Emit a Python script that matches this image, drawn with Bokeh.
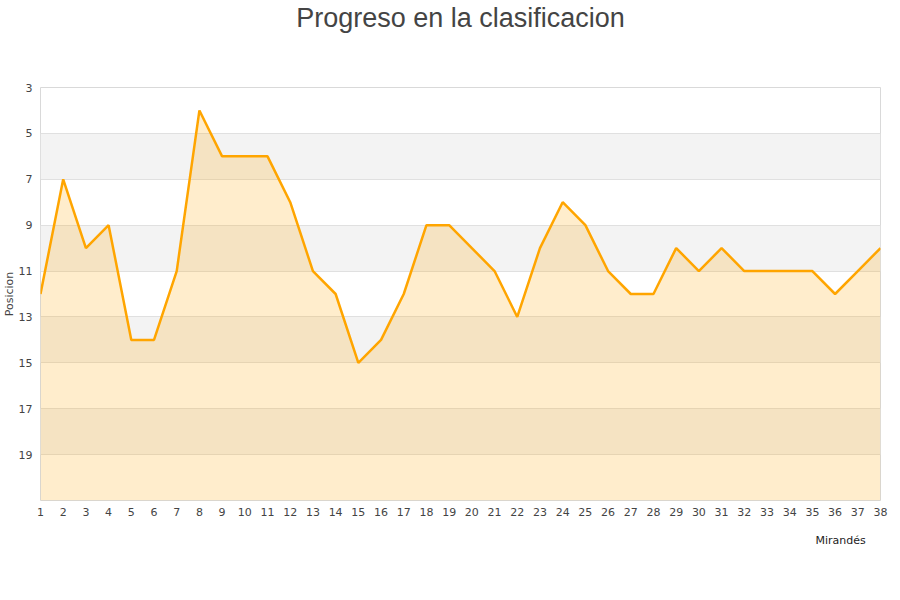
from bokeh.plotting import figure
from bokeh.models import Range1d, FixedTicker, Title
from bokeh.embed import file_html
from bokeh.resources import INLINE

# ---- data ----
jornadas = list(range(1, 39))
posiciones = [12, 7, 10, 9, 14, 14, 11, 4, 6, 6,
              6, 8, 11, 12, 15, 14, 12, 9, 9, 10,
              11, 13, 10, 8, 9, 11, 12, 12, 10, 11,
              10, 11, 11, 11, 11, 12, 11, 10]
y_ticks = [3, 5, 7, 9, 11, 13, 15, 17, 19]
team = "Mirandés"
chart_title = "Progreso en la clasificacion"
y_label = "Posicion"
y_bottom = 21
y_top = 3

p = figure(frame_width=840, frame_height=413, output_backend="svg", toolbar_location=None,
           x_range=Range1d(1, 38), y_range=Range1d(y_bottom, y_top), title=None,
           min_border_left=40, min_border_right=20, min_border_top=87, min_border_bottom=60)

# spacer (nearest to frame) then the main title (further out)
spacer = Title(text=" ", text_font="Liberation Sans", text_font_size="47px",
               offset=0, standoff=0, text_color="white")
p.add_layout(spacer, "above")
main_title = Title(text=chart_title, text_font="Liberation Sans", text_font_size="27px",
                   text_font_style="normal", text_color="#444444", align="center",
                   offset=0, standoff=0)
p.add_layout(main_title, "above")

p.outline_line_color = "#d9d9d9"
p.background_fill_color = "white"
p.border_fill_color = "white"

# grids
p.xgrid.grid_line_color = None
p.ygrid.grid_line_color = "#e0e0e0"
p.ygrid.band_fill_color = "#f3f3f3"
p.ygrid.band_fill_alpha = 1.0

# axes
p.xaxis.ticker = FixedTicker(ticks=jornadas)
p.yaxis.ticker = FixedTicker(ticks=y_ticks)
for ax in (p.xaxis, p.yaxis):
    ax.axis_line_color = None
    ax.major_tick_line_color = None
    ax.minor_tick_line_color = None
    ax.major_tick_out = 0
    ax.major_tick_in = 0
    ax.major_label_text_font = "DejaVu Sans"
    ax.major_label_text_font_size = "11px"
    ax.major_label_text_color = "#444444"
p.yaxis.major_label_standoff = 8
p.xaxis.major_label_standoff = 7

ylab = Title(text=y_label, align="center", text_font="DejaVu Sans", text_font_size="11px",
             text_font_style="normal", text_color="#444444", offset=0, standoff=0)
p.add_layout(ylab, "left")

# area + line
p.varea(x=jornadas, y1=posiciones, y2=y_bottom, fill_color="#ffa500", fill_alpha=0.2)
p.line(x=jornadas, y=posiciones, line_color="#ffa500", line_width=2.5)

# series name below the axis, at the right
below_spacer = Title(text=" ", text_font="DejaVu Sans", text_font_size="10px",
                     offset=0, standoff=0, text_color="white")
p.add_layout(below_spacer, "below")
series_label = Title(text=team, align="left", offset=775, standoff=0,
                     text_font="DejaVu Sans", text_font_size="11px",
                     text_font_style="normal", text_color="#222222")
p.add_layout(series_label, "below")

open("out.html", "w").write(file_html(p, INLINE))
